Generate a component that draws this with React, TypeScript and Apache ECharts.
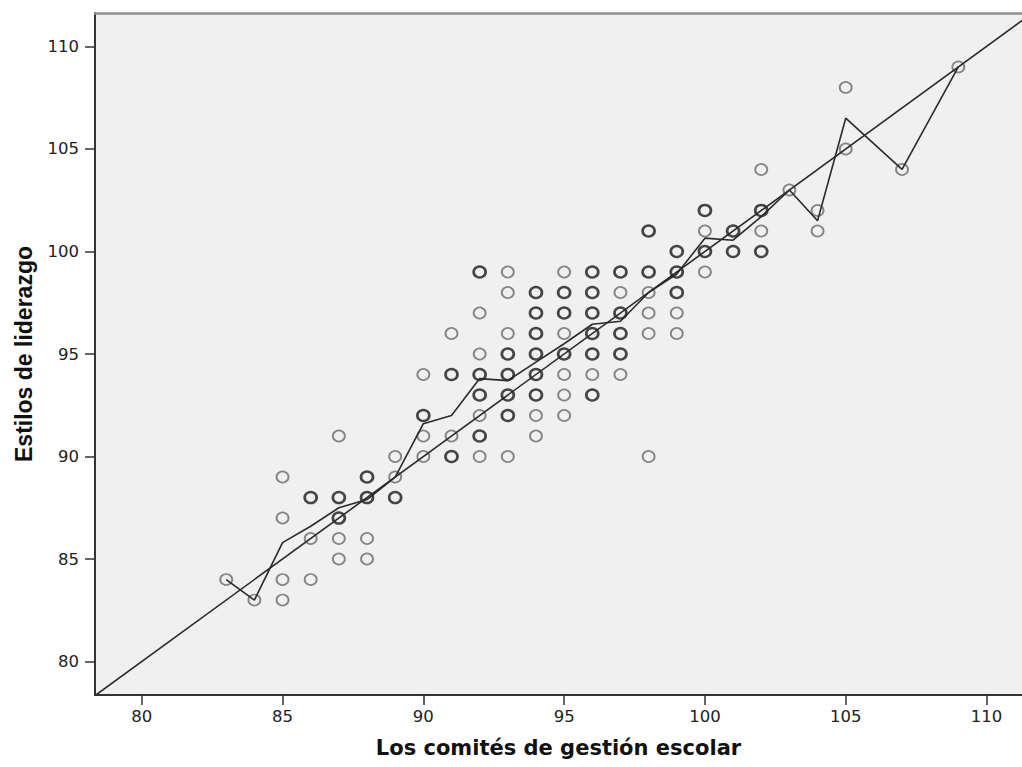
import React, { useEffect, useRef } from "react";
import * as echarts from "echarts";

// Axis ranges and ticks
const xRange = [78.34, 111.26];
const yRange = [78.37, 111.63];
const xTicks = [80, 85, 90, 95, 100, 105, 110];
const yTicks = [80, 85, 90, 95, 100, 105, 110];

const xTitle = "Los comités de gestión escolar";
const yTitle = "Estilos de liderazgo";

// Observations seen once (light circles)
const singleObs: [number, number][] = [
  [83, 84], [84, 83],
  [85, 89], [85, 87], [85, 84], [85, 83],
  [86, 86], [86, 84],
  [87, 91], [87, 86], [87, 85],
  [88, 86], [88, 85],
  [89, 90], [89, 89],
  [90, 94], [90, 91], [90, 90],
  [91, 96], [91, 91],
  [92, 97], [92, 95], [92, 92], [92, 90],
  [93, 99], [93, 98], [93, 96], [93, 90],
  [94, 92], [94, 91],
  [95, 99], [95, 96], [95, 94], [95, 93], [95, 92],
  [96, 94],
  [97, 98], [97, 94],
  [98, 98], [98, 97], [98, 96], [98, 90],
  [99, 97], [99, 96],
  [100, 101], [100, 99],
  [102, 104], [102, 101],
  [103, 103],
  [104, 102], [104, 101],
  [105, 108], [105, 105],
  [107, 104],
  [109, 109],
];

// Observations repeated (dark, overlapping circles)
const repeatedObs: [number, number][] = [
  [86, 88],
  [87, 88], [87, 87],
  [88, 89], [88, 88],
  [89, 88],
  [90, 92],
  [91, 94], [91, 90],
  [92, 99], [92, 94], [92, 93], [92, 91],
  [93, 95], [93, 94], [93, 93], [93, 92],
  [94, 98], [94, 97], [94, 96], [94, 95], [94, 94], [94, 93],
  [95, 98], [95, 97], [95, 95],
  [96, 99], [96, 98], [96, 97], [96, 96], [96, 95], [96, 93],
  [97, 99], [97, 97], [97, 96], [97, 95],
  [98, 101], [98, 99],
  [99, 100], [99, 99], [99, 98],
  [100, 102], [100, 100],
  [101, 101], [101, 100],
  [102, 102], [102, 100],
];

// Line through the mean of each x value
const meanX = [83, 84, 85, 86, 87, 88, 89, 90, 91, 92, 93, 94, 95, 96, 97, 98, 99, 100, 101, 102, 103, 104, 105, 107, 109];
const meanY = [84, 83, 85.8, 86.6, 87.5, 87.9, 89.0, 91.6, 92.0, 93.8, 93.7, 94.6, 95.5, 96.45, 96.6, 98.0, 98.9, 100.65, 100.55, 101.7, 103, 101.5, 106.5, 104, 109];

// Reference fit line (y = x)
const fitLine: [number, number][] = [[78, 78], [112, 112]];

export default function App() {
  const ref = useRef<HTMLDivElement>(null);
  useEffect(() => {
    document.body.style.margin = "0";
    if (!ref.current) return;
    const chart = echarts.init(ref.current, undefined, { renderer: "svg" });
    const labelFont = { fontFamily: "DejaVu Sans", fontSize: 16.5, color: "#222" };
    chart.setOption({
      animation: false,
      backgroundColor: "#ffffff",
      grid: {
        left: 95,
        top: 13,
        right: 0,
        bottom: 72,
        show: true,
        backgroundColor: "#f0f0f0",
        borderWidth: 0,
      },
      xAxis: [
        {
          type: "value",
          min: xRange[0],
          max: xRange[1],
          splitLine: { show: false },
          axisLine: { show: true, onZero: false, lineStyle: { color: "#333", width: 2 } },
          axisTick: { show: true, length: 10, customValues: xTicks, lineStyle: { color: "#333", width: 1.5 } },
          axisLabel: { ...labelFont, margin: 13, customValues: xTicks },
          name: xTitle,
          nameLocation: "middle",
          nameGap: 42,
          nameTextStyle: { fontFamily: "DejaVu Sans", fontWeight: "bold", fontSize: 21, color: "#111" },
        },
        {
          type: "value",
          position: "top",
          min: xRange[0],
          max: xRange[1],
          splitLine: { show: false },
          axisLine: { show: true, onZero: false, lineStyle: { color: "#8f8f8f", width: 2.5 } },
          axisTick: { show: false },
          axisLabel: { show: false },
        },
      ],
      yAxis: {
        type: "value",
        min: yRange[0],
        max: yRange[1],
        splitLine: { show: false },
        axisLine: { show: true, onZero: false, lineStyle: { color: "#333", width: 2 } },
        axisTick: { show: true, length: 10, customValues: yTicks, lineStyle: { color: "#333", width: 1.5 } },
        axisLabel: { ...labelFont, margin: 16, customValues: yTicks },
        name: yTitle,
        nameLocation: "middle",
        nameGap: 60,
        nameRotate: 90,
        nameTextStyle: { fontFamily: "Liberation Sans", fontWeight: "bold", fontSize: 23, color: "#111" },
      },
      series: [
        {
          type: "scatter",
          data: singleObs,
          symbol: "circle",
          symbolSize: [12, 11],
          itemStyle: { color: "rgba(0,0,0,0)", borderColor: "#6a6a6a", borderWidth: 1.8 },
          z: 2,
        },
        {
          type: "scatter",
          data: repeatedObs,
          symbol: "circle",
          symbolSize: [12, 11],
          itemStyle: { color: "rgba(0,0,0,0)", borderColor: "#1a1a1a", borderWidth: 2.6 },
          z: 3,
        },
        {
          type: "line",
          data: fitLine,
          symbol: "none",
          clip: true,
          lineStyle: { color: "#2a2a2a", width: 1.6 },
          z: 4,
        },
        {
          type: "line",
          data: meanX.map((x, i) => [x, meanY[i]]),
          symbol: "none",
          lineStyle: { color: "#2a2a2a", width: 1.6 },
          z: 5,
        },
      ],
    });
    return () => chart.dispose();
  }, []);
  return <div ref={ref} style={{ width: 1022, height: 767 }} />;
}
